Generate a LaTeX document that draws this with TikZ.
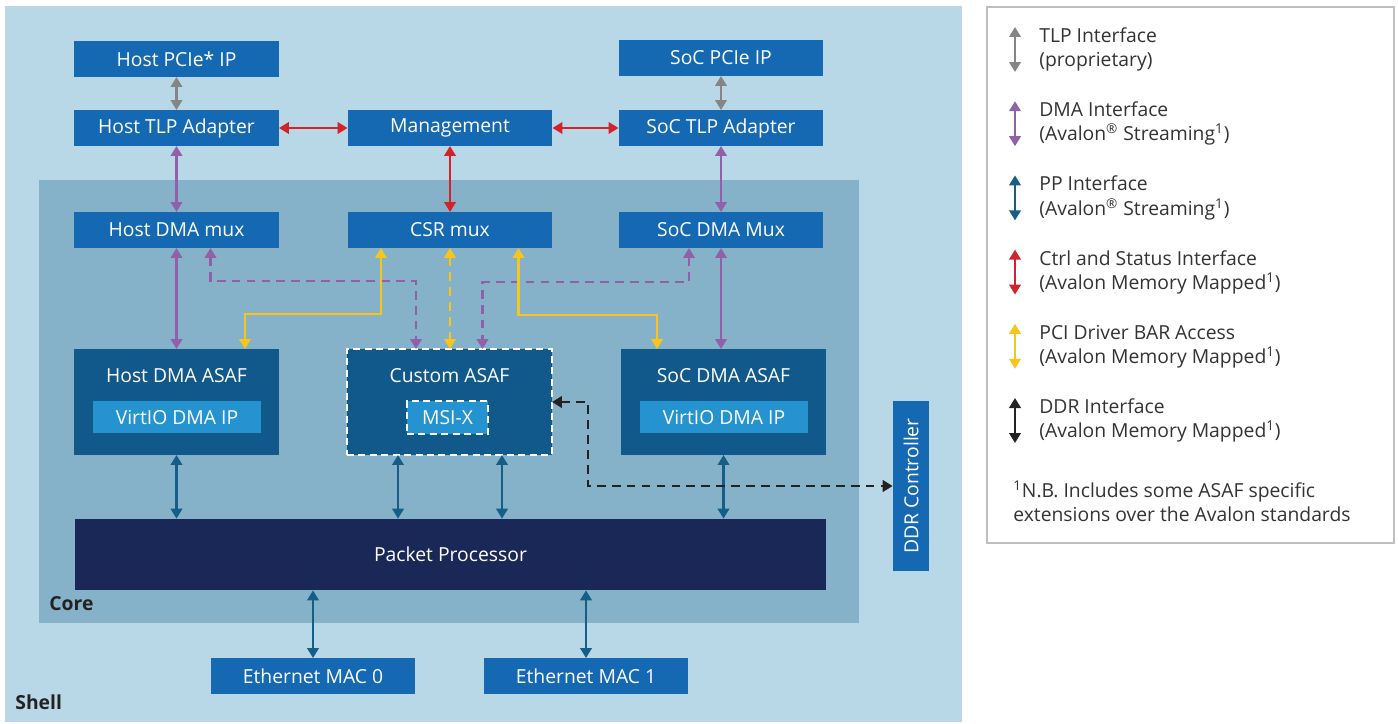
\documentclass[tikz,border=0pt]{standalone}
\usepackage{fontspec}
\setmainfont{Open Sans}
\usetikzlibrary{arrows.meta, positioning, calc}

\definecolor{shellbg}{HTML}{B8D7E7}
\definecolor{corebg}{HTML}{86B2C9}
\definecolor{ipblue}{HTML}{1569B3}
\definecolor{asafblue}{HTML}{11598A}
\definecolor{virtblue}{HTML}{2493CF}
\definecolor{ppnavy}{HTML}{1A2857}
\definecolor{tlpgray}{HTML}{858585}
\definecolor{dmapurple}{HTML}{9060A8}
\definecolor{ppblue}{HTML}{145E88}
\definecolor{ctrlred}{HTML}{D2232A}
\definecolor{baryellow}{HTML}{F9C51B}
\definecolor{ddrblack}{HTML}{222222}
\definecolor{legtext}{HTML}{333333}

\begin{document}
\begin{tikzpicture}[
  x=0.02cm, y=-0.02cm,
  font=\fontsize{11}{13.7}\selectfont,
  blk/.style={fill=ipblue, text=white, minimum width=4.1cm, minimum height=0.72cm, inner sep=0pt, outer sep=0pt},
  asaf/.style={fill=asafblue, minimum width=4.1cm, minimum height=2.12cm, inner sep=0pt, outer sep=0pt},
  virt/.style={fill=virtblue, text=white, minimum width=3.36cm, minimum height=0.65cm, inner sep=0pt, outer sep=0pt},
  asaftitle/.style={text=white, inner sep=0pt},
  region/.style={font=\fontsize{11}{13}\selectfont\bfseries, text=ddrblack, anchor=west, inner sep=0pt},
  link/.style={{Triangle[length=0.2cm, width=0.23cm]}-{Triangle[length=0.2cm, width=0.23cm]}, line width=1.3pt},
  dashlink/.style={link, line width=1.5pt, dash pattern=on 5pt off 3.5pt},
  legitem/.style={anchor=west, align=left, text=legtext, inner sep=0pt}
]
\useasboundingbox (0,0) rectangle (1398,723);

% shell and core areas
\fill[shellbg] (5,6) rectangle (962,722);
\fill[corebg] (39,180) rectangle (859,623);
\node[region] (shell) at (15,702) {Shell};
\node[region] (core) at (49,604) {Core};

% top row
\node[blk] (hpcie) at (176.5,59) {Host PCIe* IP};
\node[blk] (htlp) at (176.5,128) {Host TLP Adapter};
\node[blk] (mgmt) at (450,128) {Management};
\node[blk] (spcie) at (721,58) {SoC PCIe IP};
\node[blk] (stlp) at (721,128) {SoC TLP Adapter};

% muxes
\node[blk] (hmux) at (176.5,230) {Host DMA mux};
\node[blk] (csr) at (450,230) {CSR mux};
\node[blk] (smux) at (721,230) {SoC DMA Mux};

% asaf blocks
\node[asaf] (hasaf) at (176.5,402) {};
\node[asaftitle] (hasaft) at (176.5,376) {Host DMA ASAF};
\node[virt] (hvirt) at (177,417) {VirtIO DMA IP};
\node[asaf, draw=white, line width=0.9pt, dash pattern=on 4pt off 2.5pt] (casaf) at (449.5,402) {};
\node[asaftitle] (casaft) at (449.5,376) {Custom ASAF};
\node[virt, minimum width=1.62cm, draw=white, line width=0.9pt, dash pattern=on 4pt off 2.5pt] (msix) at (447.5,417.5) {MSI-X};
\node[asaf] (sasaf) at (723.5,402) {};
\node[asaftitle] (sasaft) at (723.5,376) {SoC DMA ASAF};
\node[virt] (svirt) at (724,417) {VirtIO DMA IP};

% packet processor, ddr, ethernet
\node[fill=ppnavy, text=white, minimum width=15.02cm, minimum height=1.42cm, inner sep=0pt] (pp) at (450.5,554.5) {Packet Processor};
\node[fill=ipblue, minimum width=0.72cm, minimum height=3.4cm, inner sep=0pt] (ddr) at (911,486) {};
\node[text=white, rotate=90, inner sep=0pt] (ddrt) at (ddr.center) {DDR Controller};
\node[blk] (eth0) at (313,676) {Ethernet MAC 0};
\node[blk] (eth1) at (586,676) {Ethernet MAC 1};

% tlp
\draw[link, tlpgray] (hpcie) -- (htlp);
\draw[link, tlpgray] (spcie.south) -- (spcie.south |- stlp.north);
% ctrl and status
\draw[link, ctrlred] (htlp) -- (mgmt);
\draw[link, ctrlred] (mgmt) -- (stlp);
\draw[link, ctrlred] (mgmt) -- (csr);
% dma
\draw[link, dmapurple] (htlp) -- (hmux);
\draw[link, dmapurple] (stlp) -- (smux);
\draw[link, dmapurple] (hmux) -- (hasaf);
\draw[link, dmapurple] (smux.south) -- (smux.south |- sasaf.north);
\draw[dashlink, dmapurple] ($(hmux.south)+(34,0)$) -- ++(0,33) -| ($(casaf.north)+(-33.5,0)$);
\draw[dashlink, dmapurple] ($(smux.south)+(-32,0)$) -- ++(0,34) -| ($(casaf.north)+(33,0)$);
% bar access
\draw[link, baryellow] ($(csr.south)+(-69,0)$) -- ++(0,66) -| ($(hasaf.north)+(68.5,0)$);
\draw[link, baryellow] ($(csr.south)+(68.5,0)$) -- ++(0,67) -| ($(sasaf.north)+(-66.5,0)$);
\draw[dashlink, baryellow] (csr.south) -- (csr.south |- casaf.north);
% pp
\draw[link, ppblue] (hasaf) -- (hasaf |- pp.north);
\draw[link, ppblue] ($(casaf.south)+(-51.5,0)$) -- ($(casaf.south |- pp.north)+(-51.5,0)$);
\draw[link, ppblue] ($(casaf.south)+(52.5,0)$) -- ($(casaf.south |- pp.north)+(52.5,0)$);
\draw[link, ppblue] (sasaf.south) -- (sasaf.south |- pp.north);
\draw[link, ppblue] (pp.south -| eth0.north) -- (eth0);
\draw[link, ppblue] (pp.south -| eth1.north) -- (eth1);
% ddr
\draw[dashlink, ddrblack] (casaf.east) -- ++(36,0) |- (ddr.west);

% legend
\node[draw=black!25, line width=1.6pt, fill=white, minimum width=8.14cm, minimum height=10.72cm, inner sep=0pt] (legend) at (1190.5,275) {};
\foreach \col/\one/\two [count=\i from 0] in {
  tlpgray/TLP Interface/(proprietary),
  dmapurple/DMA Interface/(Avalon\textsuperscript{®} Streaming\textsuperscript{1}),
  ppblue/PP Interface/(Avalon\textsuperscript{®} Streaming\textsuperscript{1}),
  ctrlred/Ctrl and Status Interface/(Avalon Memory Mapped\textsuperscript{1}),
  baryellow/PCI Driver BAR Access/(Avalon Memory Mapped\textsuperscript{1}),
  ddrblack/DDR Interface/(Avalon Memory Mapped\textsuperscript{1})} {
  \node[legitem] (leg\i) at (1039,{49.5+74.2*\i}) {\one\\\two};
  \draw[link, \col] (1015,{27+74.2*\i}) -- (1015,{72+74.2*\i});
}
\node[legitem] (note) at (1013,501) {\textsuperscript{1}N.B. Includes some ASAF specific\\extensions over the Avalon standards};
\end{tikzpicture}
\end{document}
